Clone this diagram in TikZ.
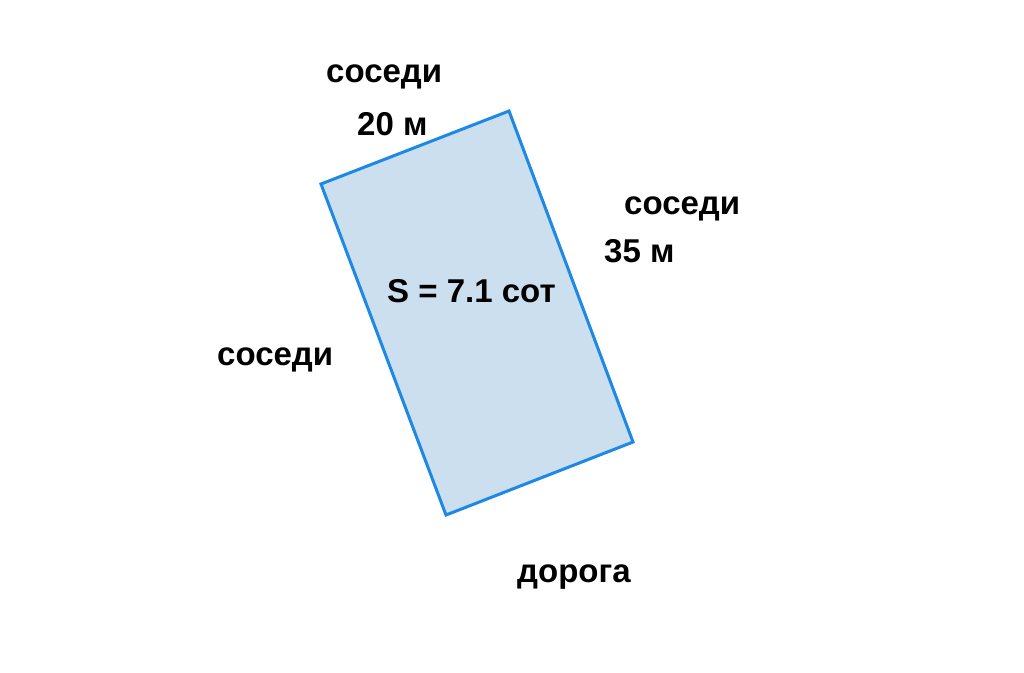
\documentclass[tikz,border=0pt]{standalone}
\usepackage{fontspec}
\setmainfont{Liberation Sans}
\definecolor{plotfill}{HTML}{CCDFEF}
\definecolor{plotline}{HTML}{1E88E5}
\begin{document}
\begin{tikzpicture}[x=1pt,y=-1pt,
  lbl/.style={anchor=base west,inner sep=0pt,font=\fontsize{33}{36}\selectfont\bfseries,text=black}]
\useasboundingbox[fill=white] (0,0) rectangle (1024,672);
\coordinate (tl) at (321,184);
\coordinate (tr) at (509,111);
\coordinate (br) at (633,442);
\coordinate (bl) at (446,515);
\draw[plotline,fill=plotfill,line width=3pt,line join=miter] (tl) -- (tr) -- (br) -- (bl) -- cycle;
\node[lbl] (ntop) at (326,82) {соседи};
\node[lbl] (w20) at (357,135) {20 м};
\node[lbl] (nright) at (624,214) {соседи};
\node[lbl] (l35) at (604,262) {35 м};
\node[lbl] (area) at (387,302) {S = 7.1 сот};
\node[lbl] (nleft) at (217,365) {соседи};
\node[lbl] (road) at (517,582) {дорога};
\end{tikzpicture}
\end{document}
